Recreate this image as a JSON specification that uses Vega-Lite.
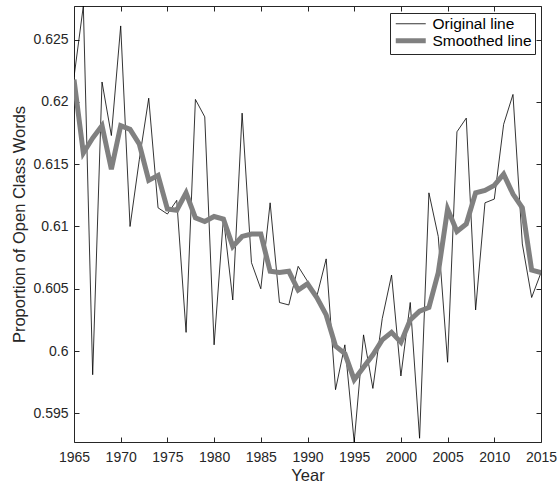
{
  "$schema": "https://vega.github.io/schema/vega-lite/v6.json",
  "width": 467,
  "height": 436,
  "autosize": {"type": "none"},
  "padding": {"left": 74, "top": 6, "right": 17, "bottom": 44},
  "background": "white",
  "config": {
    "font": "Liberation Sans",
    "view": {"stroke": null},
    "axis": {
      "grid": false,
      "domainColor": "#262626",
      "domainWidth": 1,
      "tickColor": "#262626",
      "tickWidth": 1,
      "tickSize": -5,
      "labelColor": "#262626",
      "labelFont": "Liberation Sans",
      "labelFontSize": 14,
      "titleFont": "Liberation Sans",
      "titleFontSize": 16.5,
      "titleFontWeight": "normal",
      "titleColor": "#262626"
    },
    "legend": {
      "orient": "none",
      "legendX": 316,
      "legendY": 7,
      "strokeColor": "#262626",
      "fillColor": "white",
      "padding": 3,
      "labelFont": "Liberation Sans",
      "labelFontSize": 15.5,
      "labelColor": "black",
      "symbolType": "M-1,0L5,0",
      "symbolSize": 100,
      "labelOffset": 24,
      "rowPadding": -4,
      "cornerRadius": 0
    }
  },
  "data": {
    "values": [
      {"year": 1965, "value": 0.6220, "series": "Original line"},
      {"year": 1966, "value": 0.6277, "series": "Original line"},
      {"year": 1967, "value": 0.5981, "series": "Original line"},
      {"year": 1968, "value": 0.6216, "series": "Original line"},
      {"year": 1969, "value": 0.6173, "series": "Original line"},
      {"year": 1970, "value": 0.6261, "series": "Original line"},
      {"year": 1971, "value": 0.6100, "series": "Original line"},
      {"year": 1972, "value": 0.6154, "series": "Original line"},
      {"year": 1973, "value": 0.6203, "series": "Original line"},
      {"year": 1974, "value": 0.6115, "series": "Original line"},
      {"year": 1975, "value": 0.6110, "series": "Original line"},
      {"year": 1976, "value": 0.6121, "series": "Original line"},
      {"year": 1977, "value": 0.6015, "series": "Original line"},
      {"year": 1978, "value": 0.6202, "series": "Original line"},
      {"year": 1979, "value": 0.6188, "series": "Original line"},
      {"year": 1980, "value": 0.6005, "series": "Original line"},
      {"year": 1981, "value": 0.6107, "series": "Original line"},
      {"year": 1982, "value": 0.6041, "series": "Original line"},
      {"year": 1983, "value": 0.6191, "series": "Original line"},
      {"year": 1984, "value": 0.6071, "series": "Original line"},
      {"year": 1985, "value": 0.6050, "series": "Original line"},
      {"year": 1986, "value": 0.6119, "series": "Original line"},
      {"year": 1987, "value": 0.6039, "series": "Original line"},
      {"year": 1988, "value": 0.6037, "series": "Original line"},
      {"year": 1989, "value": 0.6068, "series": "Original line"},
      {"year": 1990, "value": 0.6056, "series": "Original line"},
      {"year": 1991, "value": 0.6044, "series": "Original line"},
      {"year": 1992, "value": 0.6074, "series": "Original line"},
      {"year": 1993, "value": 0.5969, "series": "Original line"},
      {"year": 1994, "value": 0.6005, "series": "Original line"},
      {"year": 1995, "value": 0.5927, "series": "Original line"},
      {"year": 1996, "value": 0.6013, "series": "Original line"},
      {"year": 1997, "value": 0.5970, "series": "Original line"},
      {"year": 1998, "value": 0.6026, "series": "Original line"},
      {"year": 1999, "value": 0.6061, "series": "Original line"},
      {"year": 2000, "value": 0.5980, "series": "Original line"},
      {"year": 2001, "value": 0.6039, "series": "Original line"},
      {"year": 2002, "value": 0.5930, "series": "Original line"},
      {"year": 2003, "value": 0.6127, "series": "Original line"},
      {"year": 2004, "value": 0.6092, "series": "Original line"},
      {"year": 2005, "value": 0.5991, "series": "Original line"},
      {"year": 2006, "value": 0.6176, "series": "Original line"},
      {"year": 2007, "value": 0.6187, "series": "Original line"},
      {"year": 2008, "value": 0.6033, "series": "Original line"},
      {"year": 2009, "value": 0.6119, "series": "Original line"},
      {"year": 2010, "value": 0.6122, "series": "Original line"},
      {"year": 2011, "value": 0.6182, "series": "Original line"},
      {"year": 2012, "value": 0.6206, "series": "Original line"},
      {"year": 2013, "value": 0.6086, "series": "Original line"},
      {"year": 2014, "value": 0.6043, "series": "Original line"},
      {"year": 2015, "value": 0.6063, "series": "Original line"},
      {"year": 1965, "value": 0.6218, "series": "Smoothed line"},
      {"year": 1966, "value": 0.6159, "series": "Smoothed line"},
      {"year": 1967, "value": 0.6171, "series": "Smoothed line"},
      {"year": 1968, "value": 0.6181, "series": "Smoothed line"},
      {"year": 1969, "value": 0.6146, "series": "Smoothed line"},
      {"year": 1970, "value": 0.6181, "series": "Smoothed line"},
      {"year": 1971, "value": 0.6178, "series": "Smoothed line"},
      {"year": 1972, "value": 0.6166, "series": "Smoothed line"},
      {"year": 1973, "value": 0.6137, "series": "Smoothed line"},
      {"year": 1974, "value": 0.6141, "series": "Smoothed line"},
      {"year": 1975, "value": 0.6114, "series": "Smoothed line"},
      {"year": 1976, "value": 0.6113, "series": "Smoothed line"},
      {"year": 1977, "value": 0.6127, "series": "Smoothed line"},
      {"year": 1978, "value": 0.6107, "series": "Smoothed line"},
      {"year": 1979, "value": 0.6104, "series": "Smoothed line"},
      {"year": 1980, "value": 0.6108, "series": "Smoothed line"},
      {"year": 1981, "value": 0.6106, "series": "Smoothed line"},
      {"year": 1982, "value": 0.6084, "series": "Smoothed line"},
      {"year": 1983, "value": 0.6092, "series": "Smoothed line"},
      {"year": 1984, "value": 0.6094, "series": "Smoothed line"},
      {"year": 1985, "value": 0.6094, "series": "Smoothed line"},
      {"year": 1986, "value": 0.6064, "series": "Smoothed line"},
      {"year": 1987, "value": 0.6063, "series": "Smoothed line"},
      {"year": 1988, "value": 0.6064, "series": "Smoothed line"},
      {"year": 1989, "value": 0.6049, "series": "Smoothed line"},
      {"year": 1990, "value": 0.6054, "series": "Smoothed line"},
      {"year": 1991, "value": 0.6043, "series": "Smoothed line"},
      {"year": 1992, "value": 0.6029, "series": "Smoothed line"},
      {"year": 1993, "value": 0.6004, "series": "Smoothed line"},
      {"year": 1994, "value": 0.5998, "series": "Smoothed line"},
      {"year": 1995, "value": 0.5977, "series": "Smoothed line"},
      {"year": 1996, "value": 0.5987, "series": "Smoothed line"},
      {"year": 1997, "value": 0.5997, "series": "Smoothed line"},
      {"year": 1998, "value": 0.6009, "series": "Smoothed line"},
      {"year": 1999, "value": 0.6015, "series": "Smoothed line"},
      {"year": 2000, "value": 0.6007, "series": "Smoothed line"},
      {"year": 2001, "value": 0.6025, "series": "Smoothed line"},
      {"year": 2002, "value": 0.6032, "series": "Smoothed line"},
      {"year": 2003, "value": 0.6035, "series": "Smoothed line"},
      {"year": 2004, "value": 0.6063, "series": "Smoothed line"},
      {"year": 2005, "value": 0.6114, "series": "Smoothed line"},
      {"year": 2006, "value": 0.6096, "series": "Smoothed line"},
      {"year": 2007, "value": 0.6102, "series": "Smoothed line"},
      {"year": 2008, "value": 0.6127, "series": "Smoothed line"},
      {"year": 2009, "value": 0.6129, "series": "Smoothed line"},
      {"year": 2010, "value": 0.6133, "series": "Smoothed line"},
      {"year": 2011, "value": 0.6142, "series": "Smoothed line"},
      {"year": 2012, "value": 0.6126, "series": "Smoothed line"},
      {"year": 2013, "value": 0.6115, "series": "Smoothed line"},
      {"year": 2014, "value": 0.6065, "series": "Smoothed line"},
      {"year": 2015, "value": 0.6063, "series": "Smoothed line"}
    ]
  },
  "resolve": {"axis": {"x": "independent", "y": "independent"}},
  "layer": [
    {
      "mark": {"type": "line", "clip": true},
      "encoding": {
        "x": {
          "field": "year", "type": "quantitative",
          "scale": {"domain": [1965, 2015], "nice": false, "zero": false},
          "axis": {
            "orient": "bottom", "title": "Year",
            "values": [1965, 1970, 1975, 1980, 1985, 1990, 1995, 2000, 2005, 2010, 2015],
            "format": "d", "labelPadding": 13, "titlePadding": 3,
            "labelFlush": false, "labelOverlap": false
          }
        },
        "y": {
          "field": "value", "type": "quantitative",
          "scale": {"domain": [0.5927, 0.6277], "nice": false, "zero": false},
          "axis": {
            "orient": "left", "title": "Proportion of Open Class Words",
            "values": [0.595, 0.6, 0.605, 0.61, 0.615, 0.62, 0.625],
            "format": ".3~f", "labelPadding": 11, "titlePadding": 5,
            "labelFlush": false, "labelOverlap": false
          }
        },
        "color": {
          "field": "series", "type": "nominal",
          "scale": {"domain": ["Original line", "Smoothed line"], "range": ["black", "#808080"]},
          "legend": {"title": null}
        },
        "strokeWidth": {
          "field": "series", "type": "nominal",
          "scale": {"domain": ["Original line", "Smoothed line"], "range": [0.8, 5]},
          "legend": {"title": null}
        }
      }
    },
    {
      "mark": {"type": "line", "opacity": 0},
      "encoding": {
        "x": {
          "field": "year", "type": "quantitative",
          "axis": {
            "orient": "top", "title": null, "labels": false,
            "values": [1965, 1970, 1975, 1980, 1985, 1990, 1995, 2000, 2005, 2010, 2015]
          }
        },
        "y": {
          "field": "value", "type": "quantitative",
          "axis": {
            "orient": "right", "title": null, "labels": false,
            "values": [0.595, 0.6, 0.605, 0.61, 0.615, 0.62, 0.625]
          }
        },
        "detail": {"field": "series", "type": "nominal"}
      }
    }
  ]
}
